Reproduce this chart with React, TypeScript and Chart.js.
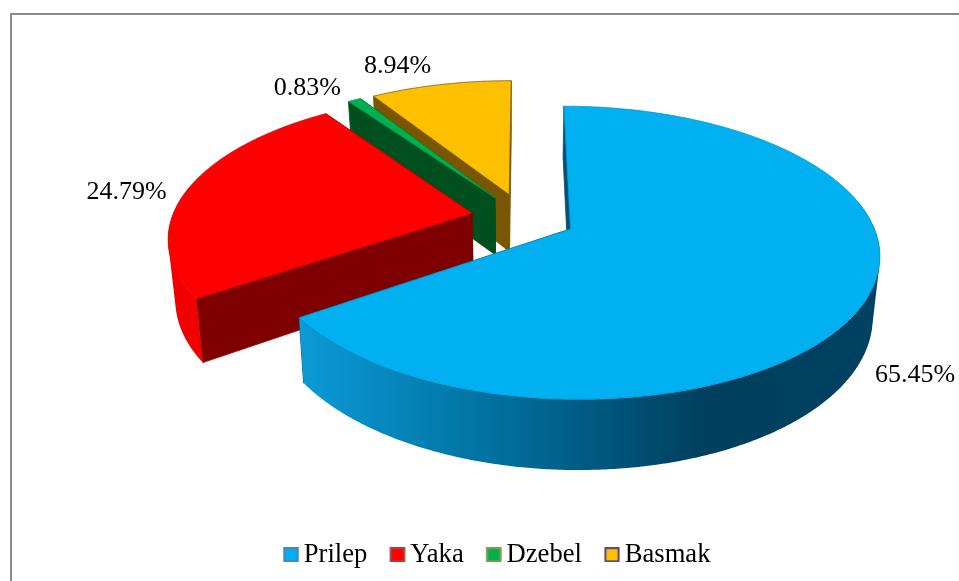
import React, { useEffect, useRef } from "react";
import { Chart, registerables } from "chart.js";

Chart.register(...registerables);

const categories = ["Prilep", "Yaka", "Dzebel", "Basmak"];
const shares = [65.45, 24.79, 0.83, 8.94];
const topColors = ["#00B0F0", "#FF0000", "#00B050", "#FFC000"];
const edgeColors = ["#0096CC", "#D80000", "#00964A", "#7A5C10"];
const wallColors = ["#004F72", "#7F0000", "#00501F", "#7A5600"];
const rimColors = ["#00628A", "#F00000", "#008040", "#A07A00"];
const legendBorders = ["#4F81BD", "#A8403C", "#7F9A4A", "#5F4B8B"];
const labelOffsets = [[50, 74], [-61, 3], [-47, -12], [-43, -18]];

const X0 = 523.4, Y0 = 217.5, RX = 300, RY = 139, K = 0.16, EXPLODE = 0.175, DEPTH = 58.5, SHRINK = 0.98;
const FONT = '26px "Liberation Serif"';

type P = { x: number; y: number; s: number };
const project = (u: number, v: number): P => {
  const s = 1 / (1 - K * v);
  return { x: X0 + RX * u * s, y: Y0 + RY * v * s, s };
};
const lower = (p: P): P => ({ x: X0 + (p.x - X0) * SHRINK, y: p.y + DEPTH * p.s, s: p.s });

const pie3d = {
  id: "pie3d",
  beforeDatasetsDraw(chart: any) {
    const ctx: CanvasRenderingContext2D = chart.ctx;
    const arcs = chart.getDatasetMeta(0).data;
    const poly = (pts: P[], fill: any, stroke?: any) => {
      ctx.beginPath();
      pts.forEach((p, i) => (i ? ctx.lineTo(p.x, p.y) : ctx.moveTo(p.x, p.y)));
      ctx.closePath();
      ctx.fillStyle = fill;
      ctx.fill();
      ctx.strokeStyle = stroke || fill;
      ctx.lineWidth = 0.8;
      ctx.stroke();
    };
    for (const i of [3, 2, 1, 0]) {
      const arc = arcs[i];
      const a0 = arc.startAngle, a1 = arc.endAngle, mid = (a0 + a1) / 2;
      const au = EXPLODE * Math.cos(mid), av = EXPLODE * Math.sin(mid);
      const apex = project(au, av);
      const n = Math.max(4, Math.ceil(((a1 - a0) * 360) / Math.PI));
      const rim: P[] = [];
      const front: boolean[] = [];
      for (let k = 0; k <= n; k++) {
        const a = a0 + ((a1 - a0) * k) / n;
        rim.push(project(au + Math.cos(a), av + Math.sin(a)));
        front.push(Math.sin(a) > -0.2);
      }
      const first = rim[0], last = rim[n];
      poly([apex, last, lower(last), lower(apex)], wallColors[i]);
      poly([apex, first, lower(first), lower(apex)], wallColors[i]);
      let rimFill: any = rimColors[i];
      if (i === 0) {
        const g = ctx.createLinearGradient(300, 0, 880, 0);
        g.addColorStop(0, "#0B9AD6");
        g.addColorStop(0.35, "#006E9C");
        g.addColorStop(0.7, "#003F5E");
        g.addColorStop(1, "#004262");
        rimFill = g;
      }
      ctx.beginPath();
      for (let k = 0; k < n; k++) {
        if (!(front[k] && front[k + 1])) continue;
        const q = [rim[k], rim[k + 1], lower(rim[k + 1]), lower(rim[k])];
        let area = 0;
        q.forEach((p, j) => {
          const r = q[(j + 1) % 4];
          area += p.x * r.y - r.x * p.y;
        });
        if (area < 0) q.reverse();
        q.forEach((p, j) => (j ? ctx.lineTo(p.x, p.y) : ctx.moveTo(p.x, p.y)));
        ctx.closePath();
      }
      ctx.fillStyle = rimFill;
      ctx.fill("nonzero");
      poly([apex, ...rim], topColors[i], edgeColors[i]);
    }
    ctx.fillStyle = "#000";
    ctx.font = FONT;
    ctx.textAlign = "center";
    ctx.textBaseline = "middle";
    arcs.forEach((arc: any, i: number) => {
      const mid = (arc.startAngle + arc.endAngle) / 2;
      const p = project((1 + EXPLODE) * Math.cos(mid), (1 + EXPLODE) * Math.sin(mid));
      ctx.fillText(shares[i].toFixed(2) + "%", p.x + labelOffsets[i][0], p.y + labelOffsets[i][1]);
    });
    return false;
  },
};

const swatch = (fill: string, border: string) => {
  const c = document.createElement("canvas");
  c.width = 30;
  c.height = 15;
  const g = c.getContext("2d")!;
  g.fillStyle = fill;
  g.fillRect(11.5, 0, 15, 15);
  g.strokeStyle = border;
  g.lineWidth = 2;
  g.strokeRect(12.5, 1, 13, 13);
  return c;
};

export default function App() {
  const ref = useRef<HTMLCanvasElement>(null);
  useEffect(() => {
    document.body.style.margin = "0";
    document.body.style.background = "#fff";
    const chart = new Chart(ref.current!, {
      type: "pie",
      data: {
        labels: categories,
        datasets: [{ data: shares, backgroundColor: topColors, borderWidth: 0 }],
      },
      plugins: [pie3d],
      options: {
        animation: false,
        responsive: false,
        layout: { padding: { left: 35, bottom: 3 } },
        plugins: {
          tooltip: { enabled: false },
          legend: {
            position: "bottom",
            labels: {
              color: "#000",
              font: { family: "Liberation Serif", size: 26.6 },
              usePointStyle: true,
              boxWidth: 7,
              boxHeight: 15,
              padding: 22.6,
              generateLabels: () =>
                categories.map((text, i) => ({
                  text,
                  fillStyle: topColors[i],
                  strokeStyle: legendBorders[i],
                  pointStyle: swatch(topColors[i], legendBorders[i]),
                  lineWidth: 0,
                  index: i,
                })),
            },
          },
        },
      },
    } as any);
    return () => chart.destroy();
  }, []);
  return (
    <div style={{ position: "fixed", left: 0, top: 0, width: 959, height: 581, background: "#fff", overflow: "hidden" }}>
      <canvas ref={ref} width={959} height={581} style={{ display: "block" }} />
      <div style={{ position: "absolute", left: 10, top: 13, right: 0, bottom: 0, borderTop: "2px solid #8C8C8C", borderLeft: "2px solid #8C8C8C" }} />
    </div>
  );
}
